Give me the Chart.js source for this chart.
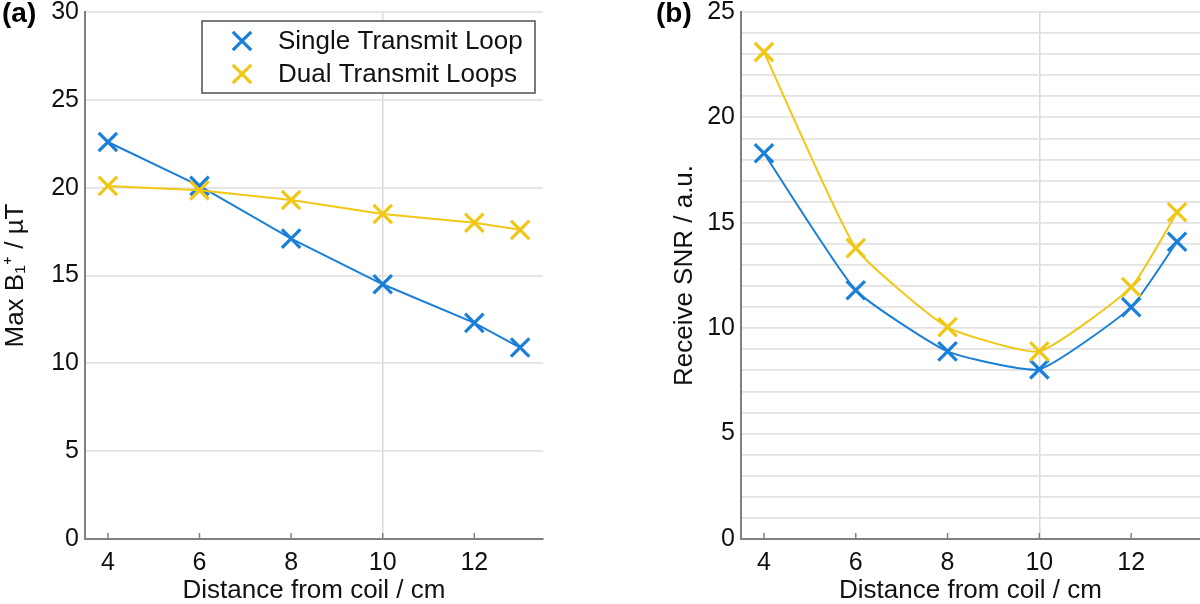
<!DOCTYPE html>
<html><head><meta charset="utf-8">
<script src="https://cdn.jsdelivr.net/npm/chart.js@4.4.1/dist/chart.umd.min.js"></script>
<style>
html,body{margin:0;padding:0;background:#fff;}
#wrap{position:relative;width:1200px;height:604px;overflow:hidden;}
.pane{position:absolute;top:0;width:600px;height:604px;}
canvas{display:block;}
</style></head><body>
<div id="wrap">
<div class="pane" style="left:0"><canvas id="c1" width="600" height="604"></canvas></div>
<div class="pane" style="left:600px"><canvas id="c2" width="600" height="604"></canvas></div>
</div>
<script>
// ---- data ----
const distances = [4, 6, 8, 10, 12, 13];
const xTicks = [4, 6, 8, 10, 12];
const seriesNames = ['Single Transmit Loop', 'Dual Transmit Loops'];
const b1Single = [22.6, 20.1, 17.1, 14.5, 12.3, 10.9];
const b1Dual = [20.1, 19.85, 19.3, 18.5, 18.0, 17.6];
const snrSingle = [18.3, 11.8, 8.9, 8.05, 11.0, 14.1];
const snrDual = [23.1, 13.8, 10.05, 8.9, 11.95, 15.5];
const panelLabels = ['(a)', '(b)'];
const xTitle = 'Distance from coil / cm';
const yTitleA = 'Max B\u2081\u207A / \u00B5T';
const yTitleB = 'Receive SNR / a.u.';

const BLUE = '#1a7fd8';
const YELLOW = '#f1c716';
const FONT = "'Liberation Sans', Arial, Helvetica, sans-serif";
const colors = [BLUE, YELLOW];

function pts(xs, ys) { return xs.map((x, i) => ({x: x, y: ys[i]})); }

function makeDatasets(a, b, tension) {
  return [a, b].map((vals, i) => ({
    label: seriesNames[i],
    data: pts(distances, vals),
    borderColor: colors[i],
    backgroundColor: colors[i],
    borderWidth: 2,
    pointStyle: 'crossRot',
    pointRadius: 13,
    pointHoverRadius: 13,
    pointBorderWidth: 3.2,
    pointBorderColor: colors[i],
    tension: tension
  })).reverse();
}

const panelPlugin = {
  id: 'panelExtras',
  afterDraw(chart, args, opts) {
    const ctx = chart.ctx;
    const xs = chart.scales.x;
    const area = chart.chartArea;
    ctx.save();
    // inward x tick marks
    ctx.strokeStyle = '#808080';
    ctx.lineWidth = 1.5;
    xTicks.forEach(v => {
      const px = xs.getPixelForValue(v);
      ctx.beginPath();
      ctx.moveTo(px, area.bottom);
      ctx.lineTo(px, area.bottom - 6);
      ctx.stroke();
    });
    // panel label
    ctx.fillStyle = '#000';
    ctx.font = 'bold 28px ' + FONT;
    ctx.textBaseline = 'alphabetic';
    ctx.textAlign = 'left';
    ctx.fillText(opts.label, opts.labelX, 22);
    // legend box
    if (opts.legend) {
      const L = opts.legend;
      ctx.fillStyle = '#fff';
      ctx.fillRect(L.x, L.y, L.w, L.h);
      ctx.strokeStyle = '#505050';
      ctx.lineWidth = 1.5;
      ctx.strokeRect(L.x, L.y, L.w, L.h);
      ctx.font = '26px ' + FONT;
      ctx.textBaseline = 'middle';
      seriesNames.forEach((name, i) => {
        const cy = L.y + 20 + i * 33;
        ctx.strokeStyle = colors[i];
        ctx.fillStyle = colors[i];
        ctx.lineWidth = 3.2;
        Chart.helpers.drawPoint(ctx, {pointStyle: 'crossRot', radius: 13, borderWidth: 3.2}, L.x + 40, cy);
        ctx.fillStyle = '#111';
        ctx.fillText(name, L.x + 76, cy + 1);
      });
    }
    ctx.restore();
  }
};

function baseOptions(cfg) {
  return {
    responsive: false,
    animation: false,
    devicePixelRatio: 1,
    layout: {padding: cfg.padding, autoPadding: false},
    plugins: {
      legend: {display: false},
      tooltip: {enabled: false},
      panelExtras: cfg.extras
    },
    scales: {
      x: {
        type: 'linear',
        min: 3.5, max: 13.5,
        afterBuildTicks: s => { s.ticks = xTicks.map(v => ({value: v})); },
        afterFit: s => { s.height = 65; s.paddingLeft = 0; s.paddingRight = 0; },
        grid: {
          drawTicks: false,
          color: c => (c.tick && c.tick.value === 10) ? '#d9d9d9' : 'rgba(0,0,0,0)',
          lineWidth: 1.5
        },
        border: {display: true, color: '#808080', width: 2},
        ticks: {color: '#111', padding: 9, font: {family: FONT, size: 25}, maxRotation: 0, autoSkip: false},
        title: {display: true, text: xTitle, color: '#111', padding: 0,
                font: {family: FONT, size: 26, lineHeight: 1.0}}
      },
      y: {
        type: 'linear',
        min: 0, max: cfg.ymax,
        ticks: {
          stepSize: cfg.step, color: '#111', padding: 6, autoSkip: false,
          font: {family: FONT, size: 25},
          callback: v => (v % 5 === 0 ? String(v) : '')
        },
        afterFit: s => { s.width = cfg.yWidth; s.paddingTop = 0; s.paddingBottom = 0; },
        grid: {drawTicks: false, color: '#e2e2e2', lineWidth: 1.8},
        border: {display: true, color: '#808080', width: 2},
        title: {display: true, text: cfg.yTitle, color: '#111', padding: {top: 0, bottom: 0},
                font: {family: FONT, size: 26, lineHeight: 1.2}}
      }
    }
  };
}

new Chart(document.getElementById('c1'), {
  type: 'line',
  data: {datasets: makeDatasets(b1Single, b1Dual, 0)},
  options: baseOptions({
    padding: {left: 0, right: 57, top: 12, bottom: 0},
    ymax: 30, step: 5, yWidth: 85, yTitle: yTitleA,
    extras: {label: panelLabels[0], labelX: 2, legend: {x: 202, y: 21, w: 333, h: 72}}
  }),
  plugins: [panelPlugin]
});

new Chart(document.getElementById('c2'), {
  type: 'line',
  data: {datasets: makeDatasets(snrSingle, snrDual, 0.15)},
  options: baseOptions({
    padding: {left: 69, right: 0, top: 12, bottom: 0},
    ymax: 25, step: 1, yWidth: 72, yTitle: yTitleB,
    extras: {label: panelLabels[1], labelX: 56, legend: null}
  }),
  plugins: [panelPlugin]
});
</script>
</body></html>
